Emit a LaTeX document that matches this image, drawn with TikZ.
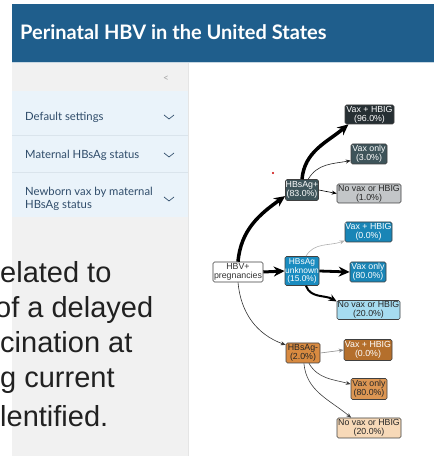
\documentclass[tikz,border=0pt]{standalone}
\usepackage{fontspec}
\usetikzlibrary{arrows.meta}
\newfontfamily\latofont{Lato}
\newfontfamily\arialfont{Liberation Sans}
\definecolor{headblue}{RGB}{31,94,140}
\definecolor{sidegray}{RGB}{241,241,241}
\definecolor{itemblue}{RGB}{234,243,250}
\definecolor{itemline}{RGB}{218,228,236}
\definecolor{menutext}{RGB}{47,76,106}
\definecolor{slate}{RGB}{62,84,90}
\definecolor{darkslate}{RGB}{38,47,51}
\definecolor{palegray}{RGB}{195,198,200}
\definecolor{midblue}{RGB}{26,140,192}
\definecolor{paleblue}{RGB}{166,220,240}
\definecolor{midorange}{RGB}{216,138,64}
\definecolor{darkorange}{RGB}{180,111,44}
\definecolor{paleorange}{RGB}{247,217,184}

\tikzset{
  box/.style={draw=black!75, rounded corners=1.5pt, line width=.6pt, align=center, inner sep=0pt,
    font=\arialfont\fontsize{8.8}{8.8}\selectfont},
  menu/.style={anchor=west, text=menutext, align=left, inner sep=0pt,
    font=\latofont\fontsize{11.3}{12.5}\selectfont},
  chev/.style={menutext, line width=.7pt},
  big/.style={anchor=base west, inner sep=0pt, text=black!87,
    font=\arialfont\fontsize{29}{29}\selectfont},
  thinarrow/.style={-{Stealth[length=5pt,width=4pt]}, line width=.6pt},
  thickarrow/.style={-{Stealth[length=11pt,width=10pt]}, line width=3.5pt}
}

\begin{document}
\begin{tikzpicture}[x=1pt,y=1pt]

\useasboundingbox (0,0) rectangle (434,456);
\fill [white] (0,0) rectangle (434,456);

\fill [headblue] (12,394) rectangle (434,452);
\draw [headblue!25, line width=1pt] (12,393.5) -- (434,393.5);
\node [anchor=base west, inner sep=0pt, text=white, font=\latofont\bfseries\fontsize{20}{20}\selectfont] (title) at (20,416) {Perinatal HBV in the United States};

\fill [sidegray] (12,0) rectangle (188,393);
\fill [itemblue] (12,239) rectangle (188,365);
\draw [itemline, line width=.8pt] (12,321) -- (188,321);
\draw [itemline, line width=.8pt] (12,284) -- (188,284);
\draw [black!10, line width=1.5pt] (188.7,0) -- (188.7,393);

\node [text=black!35, font=\latofont\fontsize{10}{10}\selectfont, inner sep=0pt] (back) at (166,377) {<};
\node [menu] (m1) at (25,339) {Default settings};
\node [menu] (m2) at (25,301) {Maternal HBsAg status};
\node [menu] (m3) at (25,257) {Newborn vax by maternal\\HBsAg status};
\draw [chev] (164,341) -- (169,337) -- (174,341);
\draw [chev] (164,303) -- (169,299) -- (174,303);
\draw [chev] (164,259) -- (169,255) -- (174,259);

\node [big] (t1) at (0,173) {elated to};
\node [big] (t2) at (-5,138) {of a delayed};
\node [big] (t3) at (0,103) {cination at};
\node [big] (t4) at (0,68) {g current};
\node [big] (t5) at (0,29) {lentified.};

\fill [red!80!black] (273,283) circle (1.2);

\node [box, fill=white, text=black!80, minimum width=50pt, minimum height=20pt] (hbv) at (238,184) {HBV+\\pregnancies};

\node [box, fill=slate, text=white, minimum width=33pt, minimum height=21pt] (pos) at (302,266) {HBsAg+\\(83.0\%)};
\node [box, fill=midblue, text=white, minimum width=34pt, minimum height=29pt, font=\arialfont\fontsize{8.4}{8.6}\selectfont] (unk) at (302,185) {HBsAg\\unknown\\(15.0\%)};
\node [box, fill=midorange, text=black!85, minimum width=34pt, minimum height=20pt] (neg) at (303,103) {HBsAg-\\(2.0\%)};

\node [box, fill=darkslate, text=white, minimum width=49pt, minimum height=19pt] (pv1) at (369.5,341.5) {Vax + HBIG\\(96.0\%)};
\node [box, fill=slate, text=white, minimum width=36pt, minimum height=20pt] (pv2) at (369,302) {Vax only\\(3.0\%)};
\node [box, fill=palegray, text=black!85, minimum width=64pt, minimum height=19pt] (pn) at (369,262.5) {No vax or HBIG\\(1.0\%)};

\node [box, fill=midblue!95!black, text=white, minimum width=47pt, minimum height=20pt] (uv1) at (368.5,224) {Vax + HBIG\\(0.0\%)};
\node [box, fill=midblue!95!black, text=white, minimum width=36pt, minimum height=20pt] (uv2) at (368,184) {Vax only\\(80.0\%)};
\node [box, fill=paleblue, text=black!85, minimum width=63pt, minimum height=19pt] (un) at (368.5,146) {No vax or HBIG\\(20.0\%)};

\node [box, fill=darkorange, text=white, minimum width=48pt, minimum height=21pt] (nv1) at (368,106) {Vax + HBIG\\(0.0\%)};
\node [box, fill=midorange!90!white, text=black!85, minimum width=36pt, minimum height=21pt] (nv2) at (369,67) {Vax only\\(80.0\%)};
\node [box, fill=paleorange, text=black!85, minimum width=64pt, minimum height=20pt] (nn) at (369,28) {No vax or HBIG\\(20.0\%)};

\draw [thickarrow] (hbv.north) to [out=85,in=-145] (pos.200);
\draw [thickarrow, line width=3pt] (hbv.east) -- (unk.west);
\draw [thinarrow, black!80] (hbv.south) to [out=-85,in=160] (neg.155);

\draw [thickarrow] (pos.north) to [out=85,in=-140] (pv1.205);
\draw [thinarrow, black!85] (pos.60) to [out=60,in=190] (pv2.200);
\draw [thinarrow] (pos.east) -- (pn.west);

\draw [thinarrow, black!30] (unk.75) to [out=60,in=200] (uv1.200);
\draw [thickarrow, line width=2.8pt] (unk.east) -- (uv2.west);
\draw [thickarrow, line width=2pt, -{Stealth[length=8pt,width=7pt]}] (unk.-75) to [out=-70,in=150] (un.165);

\draw [thinarrow, black!45] (neg.east) -- (nv1.west);
\draw [thinarrow, black!75] (neg.-60) to [out=-60,in=165] (nv2.165);
\draw [thinarrow, black!75] (neg.-85) to [out=-85,in=140] (nn.150);

\end{tikzpicture}
\end{document}
